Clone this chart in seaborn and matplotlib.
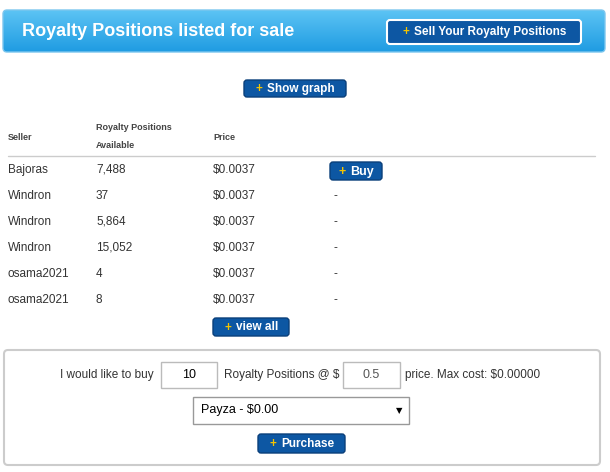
import matplotlib
matplotlib.use("Agg")
import matplotlib.pyplot as plt
import seaborn as sns
import numpy as np
from matplotlib.patches import FancyBboxPatch, Rectangle
from matplotlib.colors import LinearSegmentedColormap

sellers = ["Bajoras", "Windron", "Windron", "Windron", "osama2021", "osama2021"]
quantities = [7488, 37, 5864, 15052, 4, 8]
prices = [0.0037, 0.0037, 0.0037, 0.0037, 0.0037, 0.0037]
actions = ["Buy", "-", "-", "-", "-", "-"]
title = "Royalty Positions listed for sale"
buy_qty = "10"
buy_price = "0.5"
max_cost = "$0.00000"
payment = "Payza - $0.00"

sns.set_theme(style="white")
plt.rcParams['font.family'] = ['Arial', 'Liberation Sans', 'DejaVu Sans']

fig = plt.figure(figsize=(6.1, 4.72), dpi=100)
ax = fig.add_axes([0, 0, 1, 1])
ax.set_xlim(0, 610)
ax.set_ylim(472, 0)
ax.axis("off")
renderer = fig.canvas.get_renderer()

hdr = FancyBboxPatch((3, 10), 602, 42, boxstyle="round,pad=0,rounding_size=4",
                     fc="none", ec="#7cc6ee", lw=1)
ax.add_patch(hdr)
grad = np.linspace(0, 1, 100).reshape(-1, 1)
cmap = LinearSegmentedColormap.from_list("g", ["#5cc4f4", "#1f9be2"])
im = ax.imshow(grad, cmap=cmap, extent=(3, 605, 52, 10), aspect="auto", zorder=0)
im.set_clip_path(hdr)
ax.text(22, 32, title, color="white", fontsize=13, fontweight="bold", va="center")

def button(x0, x1, y0, y1, label, size=8.5, border="#0a3f7a", lw=1):
    ax.add_patch(FancyBboxPatch((x0, y0), x1 - x0, y1 - y0,
                                boxstyle="round,pad=0,rounding_size=3",
                                fc="#0d57a3", ec=border, lw=lw, zorder=3))
    cy = (y0 + y1) / 2 + 0.5
    t = ax.text((x0 + x1) / 2 + 6, cy, label, color="white",
                fontsize=size, fontweight="bold", ha="center", va="center", zorder=4)
    bb = t.get_window_extent(renderer)
    left = (x0 + x1) / 2 + 6 - bb.width / 2
    ax.text(left - 8, cy, "+", color="#f5c400", fontsize=size,
            fontweight="bold", ha="center", va="center", zorder=4)

button(387, 581, 20, 44, "Sell Your Royalty Positions", 8.5, "white", 1.5)
button(244, 346, 80, 97, "Show graph", 8.5)

hc = "#444444"
ax.text(8, 137, "Seller", fontsize=6.5, fontweight="bold", color=hc, va="center")
ax.text(96, 128, "Royalty Positions", fontsize=6.5, fontweight="bold", color=hc, va="center")
ax.text(96, 146, "Available", fontsize=6.5, fontweight="bold", color=hc, va="center")
ax.text(213, 137, "Price", fontsize=6.5, fontweight="bold", color=hc, va="center")
ax.plot([8, 595], [156, 156], color="#cccccc", lw=1)

tc = "#333333"
for i, (s, q, p, a) in enumerate(zip(sellers, quantities, prices, actions)):
    y = 170 + 26 * i
    ax.text(8, y, s, fontsize=8.5, color=tc, va="center")
    ax.text(96, y, f"{q:,}", fontsize=8.5, color=tc, va="center")
    ax.text(213, y, f"${p:.4f}", fontsize=8.5, color=tc, va="center")
    if a == "Buy":
        button(330, 382, 162, 180, "Buy", 9)
    else:
        ax.text(333, y, a, fontsize=8.5, color=tc, va="center")

button(213, 289, 318, 336, "view all", 8.5)

ax.add_patch(FancyBboxPatch((4, 350), 596, 115, boxstyle="round,pad=0,rounding_size=4",
                            fc="white", ec="#cccccc", lw=1.5))
ax.text(60, 375, "I would like to buy", fontsize=8.5, color=tc, va="center")
ax.add_patch(Rectangle((161, 362), 56, 26, fc="white", ec="#bbbbbb", lw=1))
ax.text(189, 375, buy_qty, fontsize=9, color="black", ha="center", va="center")
ax.text(224, 375, "Royalty Positions @ $", fontsize=8.5, color=tc, va="center")
ax.add_patch(Rectangle((343, 362), 57, 26, fc="white", ec="#bbbbbb", lw=1))
ax.text(371, 375, buy_price, fontsize=9, color="#555555", ha="center", va="center")
ax.text(405, 375, "price. Max cost: " + max_cost, fontsize=8.5, color=tc, va="center")

ax.add_patch(Rectangle((193, 397), 216, 27, fc="white", ec="#999999", lw=1))
ax.text(201, 410.5, payment, fontsize=9, color="black", va="center")
ax.text(399, 410.5, "▼", fontsize=6, color="black", ha="center", va="center",
        family=["DejaVu Sans"])

button(258, 345, 434, 453, "Purchase", 8.5)

fig.savefig("out.png", dpi=100)
